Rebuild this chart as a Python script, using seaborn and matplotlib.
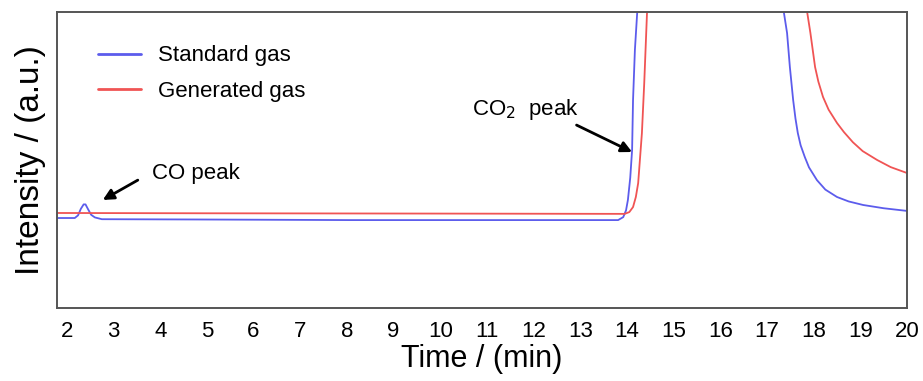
import matplotlib
matplotlib.use("Agg")
import matplotlib.pyplot as plt
import numpy as np
import pandas as pd
import seaborn as sns

# Chromatogram traces (time in min, intensity in arbitrary units; the CO2
# peak runs far off scale, so its apex values are only rough estimates)
std_time = [1.79, 2.17, 2.24, 2.30, 2.36, 2.40, 2.45, 2.52, 2.60, 2.75, 4.85,
            8.06, 11.27, 13.81, 13.92, 13.98, 14.02, 14.07, 14.11, 14.13, 14.17,
            14.22, 14.28, 15.80, 17.30, 17.36, 17.43, 17.49, 17.56, 17.61,
            17.66, 17.72, 17.81, 17.90, 18.07, 18.25, 18.50, 18.75, 19.06,
            19.50, 20.00]
std_int = [30.4, 30.4, 31.3, 33.5, 35.0, 35.0, 33.5, 31.5, 30.6, 30.0, 29.9,
           29.7, 29.7, 29.7, 30.7, 33.0, 36.5, 44.0, 53.4, 70.3, 87.2,
           100.0, 250.0, 900.0, 250.0, 100.0, 92.9, 81.4, 70.3, 64.0,
           59.1, 55.0, 51.0, 47.5, 43.2, 40.0, 37.5, 36.0, 34.8,
           33.7, 32.8]

gen_time = [1.79, 5.00, 10.00, 13.95, 14.05, 14.13, 14.19, 14.24, 14.32, 14.37,
            14.43, 14.50, 16.50, 17.80, 17.86, 17.93, 18.03, 18.10, 18.20,
            18.32, 18.50, 18.65, 18.84, 19.05, 19.36, 19.65, 20.00]
gen_int = [32.1, 32.0, 31.9, 31.8, 32.4, 34.1, 37.5, 42.2, 59.1, 76.0,
           100.0, 250.0, 900.0, 250.0, 100.0, 92.9, 81.4, 76.5, 71.3,
           67.0, 62.5, 59.4, 56.0, 53.0, 50.0, 47.6, 45.6]

series_names = ["Standard gas", "Generated gas"]
x_ticks = list(range(2, 21))

df = pd.concat([
    pd.DataFrame({"time": std_time, "intensity": std_int, "gas": series_names[0]}),
    pd.DataFrame({"time": gen_time, "intensity": gen_int, "gas": series_names[1]}),
], ignore_index=True)

sns.set_style("white")
plt.rcParams["font.family"] = ["Liberation Sans", "DejaVu Sans"]

fig = plt.figure(figsize=(9.23, 3.81), dpi=100)
ax = fig.add_axes([0.0618, 0.1916, 0.9209, 0.7769])

palette = {series_names[0]: "#5c5cec", series_names[1]: "#f05454"}
sns.lineplot(data=df, x="time", y="intensity", hue="gas", palette=palette,
             sort=False, estimator=None, linewidth=1.3, ax=ax)

ax.set_xlim(1.79, 20.0)
ax.set_ylim(0, 100)
ax.set_xticks(x_ticks)
ax.set_yticks([])
ax.tick_params(axis="x", length=0, pad=9, labelsize=16, colors="black")

for s in ax.spines.values():
    s.set_visible(True)
    s.set_color("#555555")
    s.set_linewidth(1.4)

ax.set_xlabel("Time / (min)", fontsize=22, labelpad=2, color="black")
ax.set_ylabel("Intensity / (a.u.)", fontsize=24, labelpad=8, color="black")

leg = ax.legend(loc="upper left", bbox_to_anchor=(0.025, 0.955), frameon=False,
                fontsize=16, handlelength=1.9, handletextpad=0.8,
                labelspacing=0.65)
for line in leg.get_lines():
    line.set_linewidth(2.0)
for t in leg.get_texts():
    t.set_color("black")

arrow = dict(arrowstyle="-|>", color="black", lw=2.0, mutation_scale=16,
             shrinkA=0, shrinkB=0)
ax.annotate("", xy=(2.77, 36.5), xytext=(3.52, 43.2), arrowprops=arrow)
ax.text(3.82, 45.6, "CO peak", fontsize=16, ha="left", va="center", color="black")
ax.annotate("", xy=(14.11, 52.7), xytext=(12.92, 61.8), arrowprops=arrow)
ax.text(10.67, 66.9, "CO$_2$  peak", fontsize=16, ha="left", va="center",
        color="black")

fig.savefig("out.png", dpi=100)
